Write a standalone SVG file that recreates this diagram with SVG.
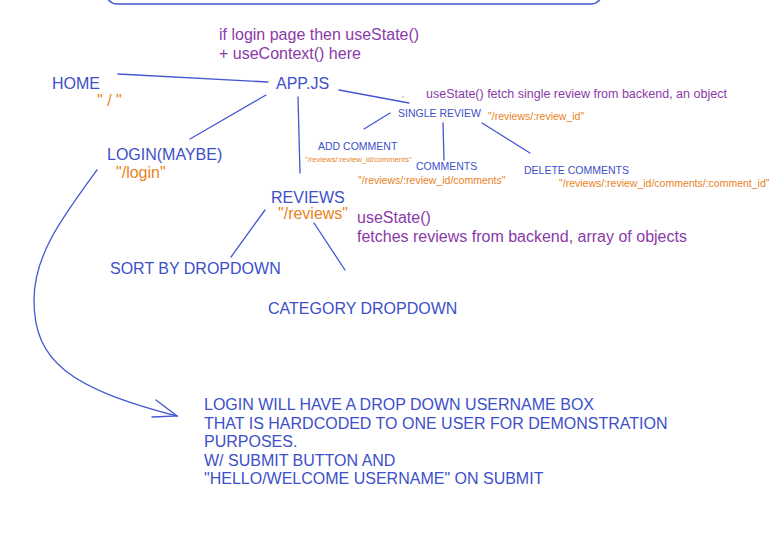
<svg xmlns="http://www.w3.org/2000/svg" width="784" height="550" viewBox="0 0 784 550">
<style>
text{font-family:"Liberation Sans",Arial,sans-serif}
.b{fill:#3d4fc9;font-size:16px}
.bs{fill:#3d4fc9;font-size:10.5px}
.p{fill:#8a3aa8;font-size:16px}
.ps{fill:#8a3aa8;font-size:12.5px}
.o{fill:#e8831c;font-size:16px}
.os{fill:#e8831c;font-size:10.5px}
.ln{stroke:#4557d0;stroke-width:1.3;fill:none;stroke-linecap:round}
</style>
<rect width="784" height="550" fill="#ffffff"/>
<rect x="106" y="-30" width="496" height="34" rx="11" fill="none" stroke="#4557d0" stroke-width="1.5"/>
<g id="connectors">
<path class="ln" d="M118,74 L268,82"/>
<path class="ln" d="M266,95 L190,139"/>
<path class="ln" d="M298,97 L300,173"/>
<path class="ln" d="M339,90 L409,103"/>
<path class="ln" d="M390,113 L364,129"/>
<path class="ln" d="M443,123 L444,160"/>
<path class="ln" d="M482,123 L530,153"/>
<path class="ln" d="M265,210 L231,257"/>
<path class="ln" d="M314,223 L345,270"/>
<path class="ln" d="M97,170 C62,218 34,255 34,300 C34,362 70,388 177,416"/>
<path class="ln" d="M156,400 L177,416 L152,417"/>
<circle cx="403" cy="97" r="0.6" fill="#333"/>
</g>
<g id="top-note"><text class="p" x="219" y="40">if login page then useState()</text><text class="p" x="219" y="59">+ useContext() here</text></g>
<g id="home"><text class="b" x="52" y="89">HOME</text><text class="o" x="97" y="106">" / "</text></g>
<g id="app"><text class="b" x="276" y="89">APP.JS</text></g>
<g id="single-note"><text class="ps" x="426" y="98">useState() fetch single review from backend, an object</text></g>
<g id="single-review"><text class="bs" x="398" y="117">SINGLE REVIEW</text><text class="os" x="488" y="120">"/reviews/:review_id"</text></g>
<g id="add-comment"><text class="bs" x="318" y="150">ADD COMMENT</text><text x="305" y="162" fill="#e8831c" style="font-size:7.6px">"/reviews/:review_id/comments"</text></g>
<g id="comments"><text class="bs" x="416" y="170">COMMENTS</text><text class="os" x="358" y="184">"/reviews/:review_id/comments"</text></g>
<g id="delete-comments"><text class="bs" x="524" y="174">DELETE COMMENTS</text><text class="os" x="559" y="187">"/reviews/:review_id/comments/:comment_id"</text></g>
<g id="login"><text class="b" x="107" y="160">LOGIN(MAYBE)</text><text class="o" x="116" y="178">"/login"</text></g>
<g id="reviews"><text class="b" x="271" y="203">REVIEWS</text><text class="o" x="278" y="219">"/reviews"</text></g>
<g id="reviews-note"><text class="p" x="357" y="223">useState()</text><text class="p" x="357" y="242">fetches reviews from backend, array of objects</text></g>
<g id="sort"><text class="b" x="110" y="274">SORT BY DROPDOWN</text></g>
<g id="category"><text class="b" x="268" y="314">CATEGORY DROPDOWN</text></g>
<g id="login-note">
<text class="b" x="204" y="410">LOGIN WILL HAVE A DROP DOWN USERNAME BOX</text>
<text class="b" x="204" y="429">THAT IS HARDCODED TO ONE USER FOR DEMONSTRATION</text>
<text class="b" x="204" y="447">PURPOSES.</text>
<text class="b" x="204" y="466">W/ SUBMIT BUTTON AND</text>
<text class="b" x="204" y="484">"HELLO/WELCOME USERNAME" ON SUBMIT</text>
</g>
</svg>
